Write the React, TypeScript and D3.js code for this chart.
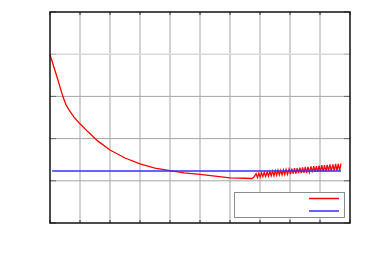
import React from 'react';
import * as d3 from 'd3';

// decay part of the red series: [t, value]
const redDecay: [number, number][] = [
    [0, 3.98], [0.067, 3.84], [0.233, 3.46], [0.433, 2.99], [0.533, 2.8],
    [0.633, 2.68], [0.8, 2.51], [1.0, 2.35], [1.267, 2.16], [1.6, 1.94],
    [2.0, 1.73], [2.5, 1.54], [3.0, 1.4], [3.5, 1.3], [4.0, 1.24],
    [4.467, 1.19], [5.0, 1.15], [5.5, 1.11], [6.0, 1.07], [6.5, 1.06],
    [6.73, 1.055], [6.8, 1.09],
];

// oscillating tail: peak times, peak values, trough values
const oscTimes = [6.87, 6.96, 7.05, 7.14, 7.24, 7.33, 7.42, 7.51, 7.6, 7.69, 7.78, 7.87, 7.97, 8.06, 8.15, 8.24,
    8.33, 8.42, 8.51, 8.6, 8.7, 8.79, 8.88, 8.97, 9.06, 9.15, 9.24, 9.33, 9.43, 9.52, 9.61, 9.7];
const oscHigh = [1.17, 1.18, 1.19, 1.2, 1.21, 1.22, 1.23, 1.24, 1.25, 1.25, 1.26, 1.27, 1.28, 1.29, 1.3, 1.3,
    1.31, 1.32, 1.33, 1.33, 1.34, 1.35, 1.35, 1.36, 1.37, 1.37, 1.38, 1.39, 1.39, 1.4, 1.4, 1.41];
const oscLow = [1.08, 1.09, 1.1, 1.1, 1.11, 1.12, 1.12, 1.13, 1.14, 1.14, 1.15, 1.15, 1.16, 1.17, 1.17, 1.18,
    1.18, 1.19, 1.19, 1.2, 1.2, 1.21, 1.21, 1.21, 1.22, 1.22, 1.23, 1.23, 1.23, 1.24, 1.24, 1.24];

const blueLevel = 1.23;
const blueRange = [0.07, 9.7];

const xTicks = [0, 1, 2, 3, 4, 5, 6, 7, 8, 9, 10];
const yTicks = [0, 1, 2, 3, 4, 5];

function App() {
    const width = 368;
    const height = 264;
    const x = d3.scaleLinear().domain([0, 10]).range([50, 350]);
    const y = d3.scaleLinear().domain([0, 5]).range([223, 12]);

    const red: [number, number][] = [...redDecay];
    oscTimes.forEach((t, i) => {
        red.push([t, oscHigh[i]]);
        if (i < oscTimes.length - 1) red.push([t + 0.045, oscLow[i]]);
    });

    const line = d3.line<[number, number]>()
        .x(d => x(d[0]))
        .y(d => y(d[1]));

    const [x0, x1] = x.range();
    const [yb, yt] = y.range();

    return (
        <svg width={width} height={height} style={{ position: 'absolute', left: 0, top: 0 }}>
            <rect width={width} height={height} fill="#fff" />
            {/* grid */}
            {xTicks.slice(1, -1).map(t => (
                <line key={'gx' + t} x1={x(t)} x2={x(t)} y1={yt} y2={yb} stroke="#a6a6a6" strokeWidth={1} />
            ))}
            {yTicks.slice(1, -1).map(t => (
                <line key={'gy' + t} x1={x0} x2={x1} y1={y(t)} y2={y(t)}
                    stroke={t === 4 ? '#d9d9d9' : '#a6a6a6'} strokeWidth={t === 4 ? 1.5 : 1} />
            ))}
            {/* ticks */}
            {xTicks.map(t => (
                <g key={'tx' + t} stroke="#333" strokeWidth={1}>
                    <line x1={x(t)} x2={x(t)} y1={yt} y2={yt + 3} />
                    <line x1={x(t)} x2={x(t)} y1={yb} y2={yb - 3} />
                </g>
            ))}
            {yTicks.map(t => (
                <g key={'ty' + t} stroke={t === 4 ? '#bbb' : '#666'} strokeWidth={1}>
                    <line x1={x0} x2={x0 + 6} y1={y(t)} y2={y(t)} />
                    <line x1={x1} x2={x1 - 6} y1={y(t)} y2={y(t)} />
                </g>
            ))}
            {/* series */}
            <path d={line(red) || ''} fill="none" stroke="#ff0000" strokeWidth={1.3} />
            <line x1={x(blueRange[0])} x2={x(blueRange[1])} y1={y(blueLevel)} y2={y(blueLevel)}
                stroke="#3333ff" strokeOpacity={0.75} strokeWidth={2} />
            {/* frame */}
            <rect x={x0} y={yt} width={x1 - x0} height={yb - yt} fill="none" stroke="#111" strokeWidth={1.5} />
            {/* legend */}
            <rect x={234.5} y={192.5} width={110} height={25} fill="#fff" stroke="#8c8c8c" strokeWidth={1} />
            <line x1={309} x2={339} y1={198.5} y2={198.5} stroke="#ff0000" strokeWidth={1.5} />
            <line x1={309} x2={339} y1={211} y2={211} stroke="#3333ff" strokeOpacity={0.75} strokeWidth={2} />
        </svg>
    );
}

export default App;
